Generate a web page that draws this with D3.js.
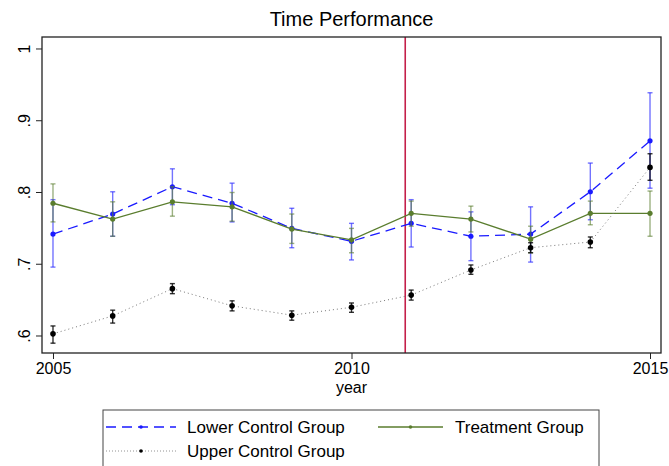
<!DOCTYPE html>
<html>
<head>
<meta charset="utf-8">
<script src="https://cdn.jsdelivr.net/npm/d3@7"></script>
<style>
  body { margin: 0; background: #fff; }
  svg { font-family: "Liberation Sans", Arial, sans-serif; }
</style>
</head>
<body>
<svg id="chart" width="669" height="466"></svg>
<script>
const years = [2005, 2006, 2007, 2008, 2009, 2010, 2011, 2012, 2013, 2014, 2015];

// Lower control group: mean, lower and upper CI
const lowerMean = [0.742, 0.770, 0.808, 0.785, 0.750, 0.732, 0.757, 0.739, 0.742, 0.801, 0.872];
const lowerLo = [0.696, 0.739, 0.783, 0.759, 0.723, 0.706, 0.724, 0.705, 0.703, 0.762, 0.806];
const lowerHi = [0.790, 0.801, 0.833, 0.813, 0.778, 0.757, 0.790, 0.773, 0.780, 0.841, 0.939];

// Treatment group
const treatMean = [0.785, 0.763, 0.787, 0.780, 0.749, 0.734, 0.771, 0.763, 0.735, 0.771, 0.771];
const treatLo = [0.759, 0.739, 0.767, 0.760, 0.729, 0.716, 0.753, 0.745, 0.716, 0.755, 0.739];
const treatHi = [0.812, 0.787, 0.808, 0.800, 0.770, 0.750, 0.788, 0.781, 0.753, 0.788, 0.802];

// Upper control group
const upperMean = [0.603, 0.628, 0.666, 0.642, 0.629, 0.640, 0.657, 0.692, 0.723, 0.731, 0.835];
const upperLo = [0.590, 0.618, 0.659, 0.635, 0.622, 0.633, 0.650, 0.686, 0.716, 0.723, 0.817];
const upperHi = [0.614, 0.636, 0.673, 0.649, 0.635, 0.646, 0.664, 0.699, 0.730, 0.738, 0.854];

const yTicks = [0.6, 0.7, 0.8, 0.9, 1];
const yTickLabels = ['.6', '.7', '.8', '.9', '1'];
const xTicks = [2005, 2010, 2015];
const cutYear = 2010.9;

const svg = d3.select('#chart');
const plot = { left: 42, right: 661, top: 37, bottom: 353 };

const x = d3.scaleLinear()
  .domain([2004.816, 2015.184])
  .range([plot.left, plot.right]);
const y = d3.scaleLinear()
  .domain([0.5763, 1.0167])
  .range([plot.bottom, plot.top]);

// title
svg.append('text')
  .attr('x', (plot.left + plot.right) / 2)
  .attr('y', 26)
  .attr('text-anchor', 'middle')
  .attr('font-size', 20)
  .attr('fill', '#000')
  .text('Time Performance');

// axes
let yAxis = svg.append('g')
  .attr('transform', `translate(${plot.left},0)`)
  .call(d3.axisLeft(y).tickValues(yTicks).tickSize(6).tickPadding(12)
    .tickFormat((d, i) => yTickLabels[i]));
yAxis.select('.domain').remove();
yAxis.selectAll('line').attr('stroke', '#222');
yAxis.selectAll('text')
  .attr('font-size', 16)
  .attr('fill', '#000')
  .attr('font-family', 'Liberation Sans, Arial, sans-serif')
  .attr('transform', d => `rotate(-90, -18, ${y(d)})`)
  .attr('x', -18)
  .attr('y', d => y(d))
  .attr('dy', '0.35em')
  .attr('text-anchor', 'middle');
yAxis.selectAll('.tick').attr('transform', null);
yAxis.selectAll('.tick line')
  .attr('y1', d => y(d)).attr('y2', d => y(d));

let xAxis = svg.append('g')
  .attr('transform', `translate(0,${plot.bottom})`)
  .call(d3.axisBottom(x).tickValues(xTicks).tickSize(6).tickPadding(4).tickFormat(d3.format('d')));
xAxis.select('.domain').remove();
xAxis.selectAll('line').attr('stroke', '#222');
xAxis.selectAll('text')
  .attr('font-size', 16)
  .attr('fill', '#000')
  .attr('font-family', 'Liberation Sans, Arial, sans-serif');

svg.append('text')
  .attr('x', (plot.left + plot.right) / 2)
  .attr('y', 393)
  .attr('text-anchor', 'middle')
  .attr('font-size', 16)
  .text('year');

// treatment cut line
svg.append('line')
  .attr('x1', x(cutYear)).attr('x2', x(cutYear))
  .attr('y1', plot.top).attr('y2', plot.bottom)
  .attr('stroke', '#c41f4a')
  .attr('stroke-width', 1.6);

const series = [
  { name: 'Lower Control Group', mean: lowerMean, lo: lowerLo, hi: lowerHi,
    color: '#1a1aff', barColor: 'rgba(40,40,255,0.65)', dash: '10,6', width: 1.3, r: 2.6 },
  { name: 'Treatment Group', mean: treatMean, lo: treatLo, hi: treatHi,
    color: '#5a7d2e', barColor: 'rgba(90,125,46,0.6)', dash: null, width: 1.3, r: 2.6 },
  { name: 'Upper Control Group', mean: upperMean, lo: upperLo, hi: upperHi,
    color: '#000', barColor: 'rgba(0,0,0,0.8)', dash: '1,3', width: 1, lineColor: '#777', r: 2.8 }
];

const line = d3.line()
  .x(d => x(d.year))
  .y(d => y(d.v));

series.forEach(s => {
  const pts = years.map((yr, i) => ({ year: yr, v: s.mean[i], lo: s.lo[i], hi: s.hi[i] }));
  const g = svg.append('g');
  // error bars
  const bars = g.selectAll('g.bar').data(pts).enter().append('g');
  bars.append('line')
    .attr('x1', d => x(d.year)).attr('x2', d => x(d.year))
    .attr('y1', d => y(d.lo)).attr('y2', d => y(d.hi))
    .attr('stroke', s.barColor).attr('stroke-width', 1.4);
  [d => d.lo, d => d.hi].forEach(f => {
    bars.append('line')
      .attr('x1', d => x(d.year) - 2.5).attr('x2', d => x(d.year) + 2.5)
      .attr('y1', d => y(f(d))).attr('y2', d => y(f(d)))
      .attr('stroke', s.barColor).attr('stroke-width', 1.4);
  });
  // connecting line
  g.append('path')
    .datum(pts)
    .attr('d', line)
    .attr('fill', 'none')
    .attr('stroke', s.lineColor || s.color)
    .attr('stroke-width', s.width)
    .attr('stroke-dasharray', s.dash);
  // markers
  g.selectAll('circle').data(pts).enter().append('circle')
    .attr('cx', d => x(d.year))
    .attr('cy', d => y(d.v))
    .attr('r', s.r)
    .attr('fill', s.color);
});

// frame
svg.append('rect')
  .attr('x', plot.left).attr('y', plot.top)
  .attr('width', plot.right - plot.left)
  .attr('height', plot.bottom - plot.top)
  .attr('fill', 'none')
  .attr('stroke', '#222')
  .attr('stroke-width', 1.3);

// legend
const legend = svg.append('g');
legend.append('rect')
  .attr('x', 103).attr('y', 410)
  .attr('width', 496).attr('height', 70)
  .attr('fill', '#fff')
  .attr('stroke', '#444')
  .attr('stroke-width', 1);

const legendPos = [
  { x: 106, y: 427 },
  { x: 378, y: 427 },
  { x: 106, y: 451 }
];
series.forEach((s, i) => {
  const p = legendPos[i];
  const g = legend.append('g').attr('transform', `translate(${p.x},${p.y})`);
  const w = i === 1 ? 65 : 70;
  g.append('line')
    .attr('x1', 0).attr('x2', w)
    .attr('y1', 0).attr('y2', 0)
    .attr('stroke', s.lineColor || s.color)
    .attr('stroke-width', i === 2 ? 0.8 : s.width)
    .attr('stroke-dasharray', i === 2 ? '1,2' : s.dash);
  g.append('circle')
    .attr('cx', w / 2).attr('cy', 0)
    .attr('r', 1.8)
    .attr('fill', s.color);
  g.append('text')
    .attr('x', i === 1 ? 77 : 81)
    .attr('y', 0)
    .attr('dy', '0.36em')
    .attr('font-size', 17)
    .text(s.name);
});
</script>
</body>
</html>
